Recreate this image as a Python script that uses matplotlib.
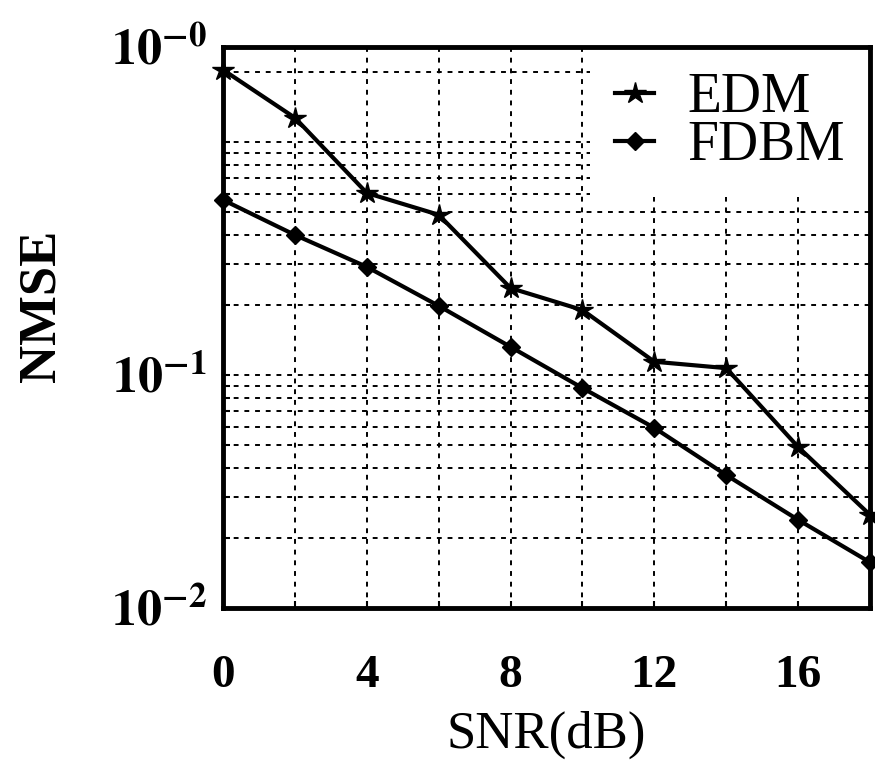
import matplotlib
matplotlib.use('Agg')
import matplotlib.pyplot as plt
from matplotlib.ticker import MultipleLocator, LogLocator, NullFormatter, FixedLocator, FixedFormatter

plt.rcParams['font.family'] = ['Liberation Serif', 'DejaVu Serif']
plt.rcParams['mathtext.fontset'] = 'stix'

snr = [0, 2, 4, 6, 8, 10, 12, 14, 16, 18]
nmse_edm = [2.04, 1.27, 0.604, 0.487, 0.236, 0.190, 0.114, 0.107, 0.0491, 0.0251]
nmse_fdbm = [0.564, 0.399, 0.291, 0.198, 0.132, 0.0879, 0.0593, 0.0372, 0.0239, 0.0157]

y_bottom = 1e-2
y_top = 2.557
ytick_vals = [1e-2, 1e-1, y_top]
ytick_labels = [r'$\mathbf{10^{-2}}$', r'$\mathbf{10^{-1}}$', r'$\mathbf{10^{-0}}$']
xtick_vals = [0, 4, 8, 12, 16]

fig = plt.figure(figsize=(8.75, 7.7), dpi=100)
ax = fig.add_axes([0.2549, 0.2104, 0.7394, 0.7286])

ax.plot(snr, nmse_edm, color='k', lw=3, marker='*', ms=16, label='EDM', clip_on=False, zorder=5)
ax.plot(snr, nmse_fdbm, color='k', lw=3, marker='D', ms=9, label='FDBM', clip_on=False, zorder=5)

ax.set_yscale('log')
ax.set_xlim(0, 18)
ax.set_ylim(y_bottom, y_top)

ax.yaxis.set_major_locator(FixedLocator(ytick_vals))
ax.yaxis.set_major_formatter(FixedFormatter(ytick_labels))
ax.yaxis.set_minor_locator(LogLocator(base=10, subs=range(1, 10)))
ax.yaxis.set_minor_formatter(NullFormatter())

ax.set_xticks(xtick_vals)
ax.xaxis.set_minor_locator(MultipleLocator(2))

ax.grid(True, which='both', color='k', lw=1.4, linestyle=(0, (2.5, 3)), zorder=0)
ax.set_axisbelow(True)

for s in ax.spines.values():
    s.set_linewidth(3.5)

ax.tick_params(axis='both', which='both', direction='in', length=5, width=1.5)
ax.tick_params(axis='x', which='major', labelsize=34, pad=34)
ax.tick_params(axis='y', which='major', labelsize=36, pad=12)
for lab in ax.get_xticklabels():
    lab.set_fontweight('bold')

ax.set_xlabel('SNR(dB)', fontsize=38, labelpad=10)
ax.set_ylabel('NMSE', fontsize=38, fontweight='bold')
ax.yaxis.set_label_coords(-0.244, 0.538)

leg = ax.legend(loc='upper right', bbox_to_anchor=(1.0, 1.0), fontsize=40,
                frameon=True, fancybox=False, facecolor='white', edgecolor='none', framealpha=1,
                handlelength=0.7, handletextpad=0.6, labelspacing=-0.07,
                borderpad=0.45, borderaxespad=0.0)
# keep the legend box above the grid but under the spines
leg.set_zorder(2.4)

fig.savefig('out.png', dpi=100)
